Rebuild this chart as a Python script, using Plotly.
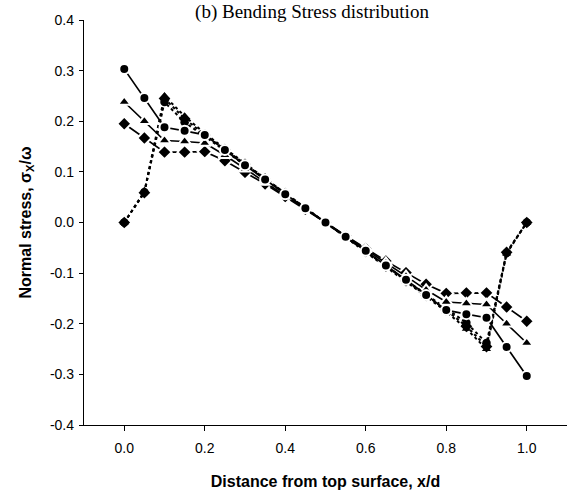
import plotly.graph_objects as go

x_pos = [0.00, 0.05, 0.10, 0.15, 0.20, 0.25, 0.30, 0.35, 0.40, 0.45, 0.50,
         0.55, 0.60, 0.65, 0.70, 0.75, 0.80, 0.85, 0.90, 0.95, 1.00]

circle_solid = [0.303, 0.246, 0.188, 0.181, 0.173, 0.143, 0.113, 0.085, 0.056, 0.028, 0.000,
                -0.028, -0.056, -0.085, -0.113, -0.143, -0.173, -0.181, -0.188, -0.246, -0.303]
triangle_solid = [0.238, 0.200, 0.162, 0.160, 0.157, 0.133, 0.106, 0.080, 0.053, 0.027, 0.000,
                  -0.027, -0.053, -0.080, -0.106, -0.133, -0.157, -0.160, -0.162, -0.200, -0.238]
diamond_solid = [0.195, 0.167, 0.139, 0.139, 0.140, 0.122, 0.099, 0.076, 0.051, 0.026, 0.000,
                 -0.026, -0.051, -0.076, -0.099, -0.122, -0.140, -0.139, -0.139, -0.167, -0.195]

circle_dotted = [0.000, 0.060, 0.238, 0.198, 0.170, 0.142, 0.114, 0.085, 0.057, 0.028, 0.000,
                 -0.028, -0.057, -0.085, -0.114, -0.142, -0.170, -0.198, -0.238, -0.060, 0.000]
triangle_dotted = [0.000, 0.061, 0.250, 0.210, 0.176, 0.146, 0.116, 0.087, 0.058, 0.029, 0.000,
                   -0.029, -0.058, -0.087, -0.116, -0.146, -0.176, -0.210, -0.250, -0.061, 0.000]
diamond_dotted = [0.000, 0.059, 0.245, 0.205, 0.173, 0.144, 0.115, 0.086, 0.057, 0.028, 0.000,
                  -0.028, -0.057, -0.086, -0.115, -0.144, -0.173, -0.205, -0.245, -0.059, 0.000]

x_ticks = [0.0, 0.2, 0.4, 0.6, 0.8, 1.0]
x_tick_labels = ["0.0", "0.2", "0.4", "0.6", "0.8", "1.0"]
y_ticks = [-0.4, -0.3, -0.2, -0.1, 0.0, 0.1, 0.2, 0.3, 0.4]
y_tick_labels = ["-0.4", "-0.3", "-0.2", "-0.1", "0.0", "0.1", "0.2", "0.3", "0.4"]

title_text = "(b) Bending Stress distribution"
x_title = "Distance from top surface, x/d"
y_title = "Normal stress, σ<sub>X</sub>/ω"

fig = go.Figure()

dotted_series = [
    (triangle_dotted, "triangle-up", 8),
    (diamond_dotted, "diamond", 9),
    (circle_dotted, "circle", 8.5),
]
for ys, sym, size in dotted_series:
    fig.add_trace(go.Scatter(
        x=x_pos, y=ys, mode="lines+markers",
        line=dict(color="black", width=2, dash="dot"),
        marker=dict(symbol=sym, size=size, color="black"),
        showlegend=False, hoverinfo="skip"))

solid_series = [
    (diamond_solid, "diamond", 11),
    (triangle_solid, "triangle-up", 11),
    (circle_solid, "circle", 10),
]
for ys, sym, size in solid_series:
    fig.add_trace(go.Scatter(
        x=x_pos, y=ys, mode="lines+markers",
        line=dict(color="black", width=1.7),
        marker=dict(symbol=sym, size=size, color="black",
                    line=dict(color="white", width=2)),
        showlegend=False, hoverinfo="skip"))

fig.update_layout(
    width=580, height=492,
    margin=dict(l=84, r=13, t=20, b=67, autoexpand=False),
    paper_bgcolor="white", plot_bgcolor="white",
    font=dict(family="Liberation Sans, Arial, sans-serif", color="black", size=14),
    title=dict(text=title_text, x=312 / 580, xref="container", xanchor="center",
               y=1 - 11 / 492, yref="container", yanchor="middle",
               font=dict(family="Liberation Serif, Times New Roman, serif", size=19, color="black")),
    xaxis=dict(range=[-0.1, 1.1], tickvals=x_ticks, ticktext=x_tick_labels,
               showline=True, linecolor="black", linewidth=1.3,
               ticks="outside", ticklen=5, tickcolor="black", tickwidth=1.3,
               ticklabelstandoff=5, automargin=False,
               showgrid=False, zeroline=False,
               title=dict(text="<b>" + x_title + "</b>", font=dict(size=16), standoff=20)),
    yaxis=dict(range=[-0.4, 0.4], tickvals=y_ticks, ticktext=y_tick_labels,
               showline=True, linecolor="black", linewidth=1.3,
               ticks="outside", ticklen=4, tickcolor="black", tickwidth=1.3,
               ticklabelstandoff=2, automargin=False,
               showgrid=False, zeroline=False,
               title=dict(text="<b>" + y_title + "</b>", font=dict(size=16), standoff=14)),
)

fig.write_html("out.html")
